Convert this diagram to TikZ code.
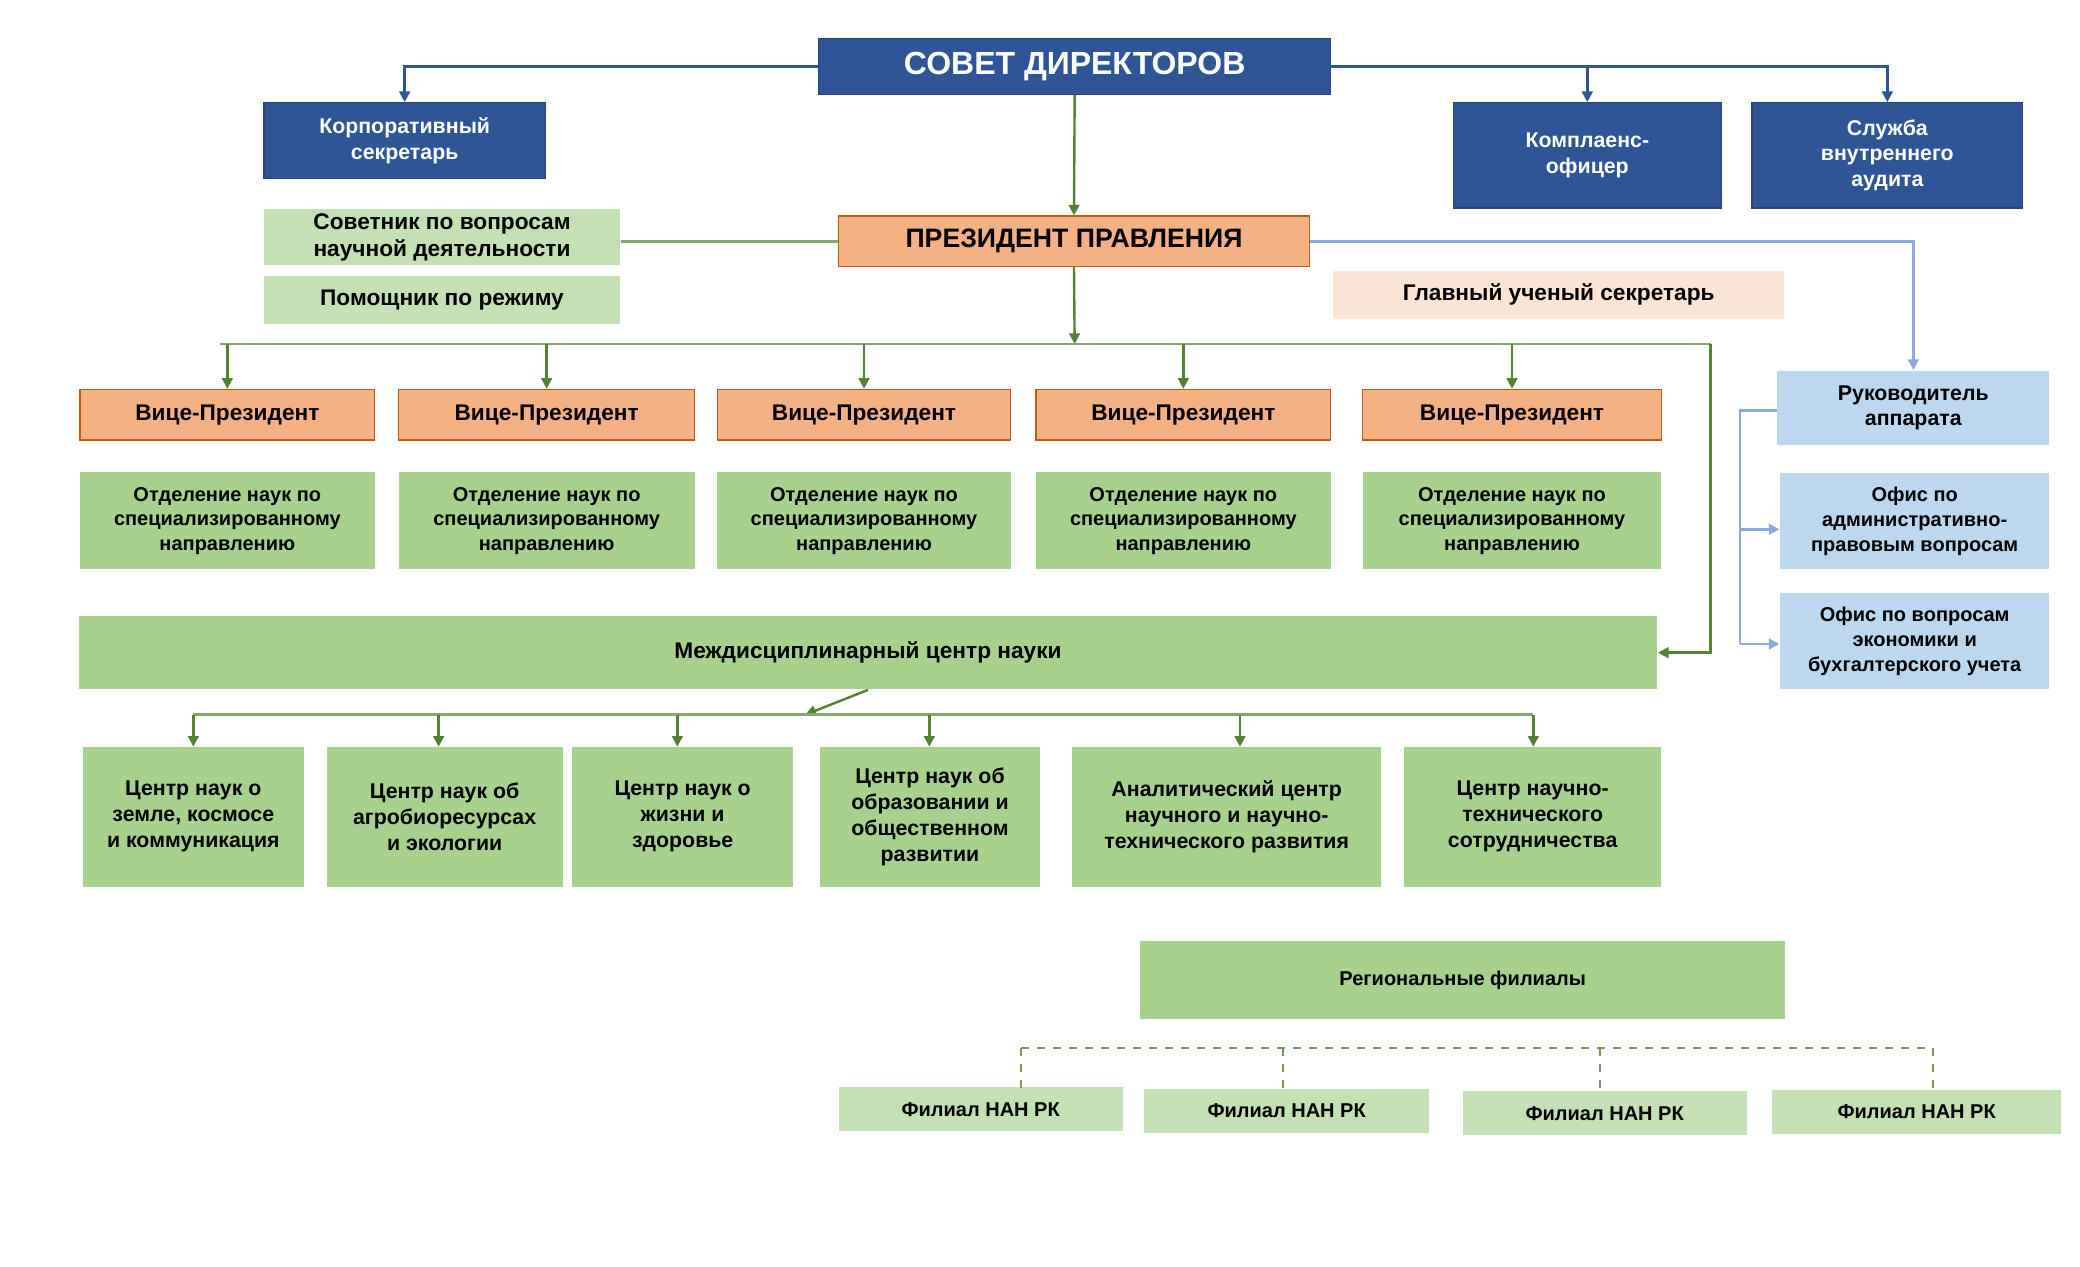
\documentclass[tikz,border=0pt]{standalone}
\usepackage{fontspec}
\setmainfont{Liberation Sans}
\usetikzlibrary{arrows.meta}
\definecolor{dblue}{HTML}{2F5597}
\definecolor{lblue}{HTML}{BDD7EE}
\definecolor{lbline}{HTML}{8FAADC}
\definecolor{orf}{HTML}{F4B183}
\definecolor{ord}{HTML}{C55A11}
\definecolor{pk}{HTML}{FBE5D6}
\definecolor{lgr}{HTML}{C5E0B4}
\definecolor{mgr}{HTML}{A9D18E}
\definecolor{gline}{HTML}{548235}
\begin{document}
\begin{tikzpicture}[x=0.5pt,y=-0.5pt,
  box/.style={draw=none,inner sep=0pt,align=center,font=\bfseries\fontsize{8}{9.5}\selectfont},
  blue/.style={box,fill=dblue,text=white,draw=dblue!80!black},
  orb/.style={box,fill=orf,draw=ord,font=\bfseries\fontsize{8.5}{10}\selectfont},
  gb/.style={box,fill=mgr,font=\fontsize{7.5}{9.2}\selectfont\bfseries},
  lg/.style={box,fill=lgr,font=\bfseries\fontsize{8.5}{10}\selectfont},
  lb/.style={box,fill=lblue},
  ga/.style={draw=gline,line width=0.9pt,-{Triangle[length=4pt,width=4pt]}},
  gl/.style={draw=gline!70,line width=0.9pt},
  ba/.style={draw=dblue,line width=0.9pt,-{Triangle[length=4pt,width=4pt]}},
  la/.style={draw=lbline,line width=0.9pt,-{Triangle[length=4pt,width=4pt]}},
  dl/.style={draw=gline!80,dashed,line width=0.7pt}]
\useasboundingbox (0,0) rectangle (1560,950);
\newcommand{\bx}[6]{\node[#1,minimum width={(#4-#3)*0.5pt},minimum height={(#6-#5)*0.5pt}] (#2) at ({(#3+#4)/2},{(#5+#6)/2}) {};}
% top
\node[blue,minimum width=192pt,minimum height=21pt,font=\bfseries\fontsize{12}{14}\selectfont] (sd) at (806,50) {СОВЕТ ДИРЕКТОРОВ};
\node[blue,minimum width=105.5pt,minimum height=28.5pt] (ks) at (303.5,105.5) {Корпоративный\\секретарь};
\node[blue,minimum width=100.5pt,minimum height=39.5pt] (ko) at (1190.5,116.5) {Комплаенс-\\офицер};
\node[blue,minimum width=101.5pt,minimum height=39.5pt] (sv) at (1415.5,116.5) {Служба\\внутреннего\\аудита};
\node[orb,minimum width=176.5pt,minimum height=19pt,font=\bfseries\fontsize{10}{12}\selectfont] (pp) at (805.5,181) {ПРЕЗИДЕНТ ПРАВЛЕНИЯ};
\node[lg,minimum width=133.5pt,minimum height=21pt] (sov) at (331.5,178) {Советник по вопросам\\научной деятельности};
\node[lg,minimum width=133.5pt,minimum height=18pt] (pom) at (331.5,225) {Помощник по режиму};
\node[lg,fill=pk,minimum width=169pt,minimum height=18pt] (gus) at (1169,221) {Главный ученый секретарь};
% VPs
\foreach \i/\a/\b in {1/60/281,2/299/521,3/538/758,4/777/998,5/1022/1246}{
  \node[orb,minimum width={(\b-\a)*0.5pt},minimum height=19pt] (vp\i) at ({(\a+\b)/2},311) {Вице-Президент};
  \node[gb,minimum width={(\b-\a)*0.5pt},minimum height=36.5pt] (ot\i) at ({(\a+\b)/2},390.5) {Отделение наук по\\специализированному\\направлению};
}
\node[gb,minimum width=592pt,minimum height=27.5pt,font=\bfseries\fontsize{8.5}{10}\selectfont] (mc) at (651,489.5) {Междисциплинарный центр науки};
\foreach \i/\a/\b/\t in {1/62/228/{Центр наук о\\земле, космосе\\и коммуникация},2/245/422/{Центр наук об\\агробиоресурсах\\и экологии},3/429/595/{Центр наук о\\жизни и\\здоровье},4/615/780/{Центр наук об\\образовании и\\общественном\\развитии},5/804/1036/{Аналитический центр\\научного и научно-\\технического развития},6/1053/1246/{Центр научно-\\технического\\сотрудничества}}{
  \node[gb,font=\fontsize{8}{9.8}\selectfont\bfseries,minimum width={(\b-\a)*0.5pt},minimum height=52.5pt] (c\i) at ({(\a+\b)/2},612.5) {\t};
}
% right side
\node[lb,minimum width=102pt,minimum height=28pt] (ra) at (1435,306) {Руководитель\\аппарата};
\node[lb,font=\bfseries\fontsize{7.5}{9.2}\selectfont,minimum width=101pt,minimum height=36pt] (o1) at (1436,391) {Офис по\\административно-\\правовым вопросам};
\node[lb,font=\bfseries\fontsize{7.5}{9.2}\selectfont,minimum width=101pt,minimum height=36pt] (o2) at (1436,481) {Офис по вопросам\\экономики и\\бухгалтерского учета};
% regional
\node[gb,minimum width=242pt,minimum height=29pt] (rf) at (1097,735) {Региональные филиалы};
\foreach \i/\a/\b/\y in {1/629/842/832,2/858/1072/833,3/1097/1310/835,4/1329/1546/834}{
  \node[lg,font=\bfseries\fontsize{7.5}{9}\selectfont,minimum width={(\b-\a)*0.5pt},minimum height=16.5pt] (f\i) at ({(\a+\b)/2},\y) {Филиал НАН РК};
}
% connectors
\draw[ba] (sd.west) -| (ks.north);
\draw[ba] (sd.east) -| (sv.north);
\draw[ba] (ko.north|-sd.east) -- (ko.north);
\draw[ga] (sd.south) -- (pp.north);
\draw[gl] (pp.west) -- (sov.east|-pp.west);
\draw[la] (pp.east) -| (ra.north);
\coordinate (hl) at (165,258); \coordinate (hr) at (1283,258);
\draw[ga] (pp.south) -- (806,258);
\draw[gl] (hl) -- (hr);
\foreach \i in {1,...,5}{\draw[ga] (vp\i.north|-hl) -- (vp\i.north);}
\draw[ga] (hr) |- (mc.east);
\coordinate (ml) at (145,536);
\draw[ga] (mc.south) -- (604,536);
\draw[gl] (145,536) -- (1150,536);
\foreach \i/\x in {1/145,2/329,3/508,4/697,5/930,6/1150}{\draw[ga] (\x,536) -- (\x,560);}
\coordinate (br) at (1305,308);
\draw[lbline,line width=0.9pt] (ra.west|-br) -- (br) -- (1305,483);
\draw[la] (1305,397) -- (o1.west|-1305,397);
\draw[la] (1305,483) -- (o2.west|-1305,483);
\draw[dl] (766,786) -- (1450,786);
\foreach \i/\x in {1/766,2/962,3/1200,4/1450}{\draw[dl] (\x,786) -- (\x,{816});}
\end{tikzpicture}
\end{document}
